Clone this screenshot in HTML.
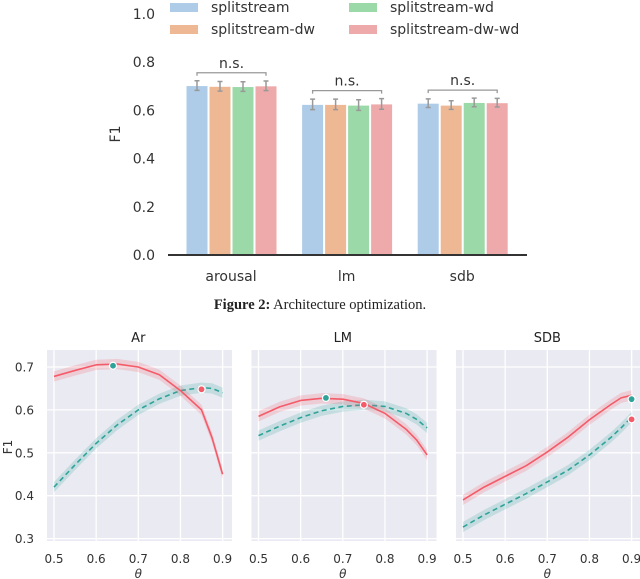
<!DOCTYPE html>
<html><head><meta charset="utf-8"><style>
body{margin:0;background:#fff;width:640px;height:579px;overflow:hidden}
svg{display:block;font-family:"DejaVu Sans","Liberation Sans",sans-serif}
</style></head><body>
<svg id="s" width="640" height="579" viewBox="0 0 640 579">
<g id="topg"></g>
<text x="320" y="309" text-anchor="middle" font-family="Liberation Serif,serif" font-size="14.5" fill="#222"><tspan font-weight="bold">Figure 2:</tspan> Architecture optimization.</text>
<g id="botg"></g>
</svg>
<script>
const NS="http://www.w3.org/2000/svg";
function mk(p,t,a,txt){const e=document.createElementNS(NS,t);for(const k in a)e.setAttribute(k,a[k]);if(txt!=null)e.textContent=txt;p.appendChild(e);return e;}

// ---- bar chart data ----
const barGroups=["arousal","lm","sdb"];
const barSeries=["splitstream","splitstream-dw","splitstream-wd","splitstream-dw-wd"];
const valSplit=[0.703,0.625,0.630];
const valDw=[0.700,0.625,0.622];
const valWd=[0.699,0.622,0.633];
const valDwWd=[0.702,0.627,0.632];
const errBar=[0.02,0.022,0.018];
const barTicks=[0,0.2,0.4,0.6,0.8,1.0];
const barColors=["#aecbe8","#eeb894","#9bd9a8","#eeaaaa"];

const topG=document.getElementById('topg');
const by=v=>255-v*241, gx0=174, gStep=115.6;
barTicks.forEach(t=>{
 const e=mk(topG,'text',{x:155,y:by(t)+5,'text-anchor':'end','font-size':14,fill:'#333'},t.toFixed(1));
 
 
});
const yl=mk(topG,'text',{x:120,y:134,'text-anchor':'middle','font-size':14,fill:'#333',transform:'rotate(-90 120 134)'},'F1');


const allVals=[valSplit,valDw,valWd,valDwWd];
barGroups.forEach((g,gi)=>{
 const gl=gx0+gi*gStep;
 allVals.forEach((vals,si)=>{
  const x=gl+12+si*23, v=vals[gi];
  const r=mk(topG,'rect',{x:x,y:by(v),width:22,height:by(0)-by(v),fill:barColors[si],stroke:'#fff','stroke-width':1});
  
  
  const cx=x+11,e=errBar[gi];
  const eb=mk(topG,'path',{d:`M${cx},${by(v+e)}V${by(v-e)}M${cx-2.5},${by(v+e)}H${cx+2.5}M${cx-2.5},${by(v-e)}H${cx+2.5}`,stroke:'#999','stroke-width':1.5,fill:'none'});
  
  
 });
 const maxv=Math.max(...allVals.map(a=>a[gi]+errBar[gi]));
 const byy=by(maxv)-8, x1=gl+23, x2=gl+12+3*23+11;
 const br=mk(topG,'path',{d:`M${x1},${byy+3}V${byy}H${x2}V${byy+3}`,stroke:'#999','stroke-width':1.3,fill:'none'});
 
 
 const ns=mk(topG,'text',{x:(x1+x2)/2,y:byy-5,'text-anchor':'middle','font-size':14,fill:'#333'},'n.s.');
 
 
 const xl=mk(topG,'text',{x:gl+57,y:281,'text-anchor':'middle','font-size':14,fill:'#333'},g);
 
 
});
const ax=mk(topG,'line',{x1:168,x2:527,y1:255,y2:255,stroke:'#333','stroke-width':2});


barSeries.forEach((s,i)=>{
 const lx=i<2?170:349, lyy=i%2?29:7;
 const p=mk(topG,'rect',{x:lx,y:lyy-4,width:28,height:9,fill:barColors[i]});
 
 
 const t=mk(topG,'text',{x:lx+41,y:lyy+5,'font-size':14,fill:'#333'},s);
 
 
});

// ---- line chart data ----
const thetas=[0.5,0.55,0.6,0.65,0.7,0.75,0.8,0.85,0.875,0.9];
const arRed=[0.678,0.692,0.705,0.707,0.700,0.682,0.645,0.600,0.535,0.450];
const arTeal=[0.420,0.472,0.522,0.565,0.600,0.626,0.645,0.652,0.650,0.640];
const lmRed=[0.585,0.607,0.622,0.627,0.625,0.615,0.592,0.555,0.530,0.495];
const lmTeal=[0.540,0.562,0.582,0.598,0.608,0.612,0.608,0.592,0.578,0.558];
const sdbRed=[0.390,0.420,0.445,0.470,0.502,0.537,0.577,0.612,0.628,0.634];
const sdbTeal=[0.327,0.355,0.380,0.405,0.432,0.460,0.495,0.535,0.558,0.583];
const panelNames=["Ar","LM","SDB"];
const markerTheta=[[0.64,0.85],[0.66,0.75],[0.9,0.9]];
const markerVal=[[0.703,0.648],[0.628,0.612],[0.625,0.578]];
const lineYTicks=[0.3,0.4,0.5,0.6,0.7];
const lineXTicks=[0.5,0.6,0.7,0.8,0.9];
const band=0.012;
const RED="#f45b69",TEAL="#2fa39a";

const botG=document.getElementById('botg');
const panelX0=[54,258.5,463];
const redSets=[arRed,lmRed,sdbRed], tealSets=[arTeal,lmTeal,sdbTeal];
const ly=v=>367+(0.7-v)*429;
panelNames.forEach((nm,pi)=>{
 const lx=t=>panelX0[pi]+(t-0.5)*421.5;
 const g=mk(botG,'g',{});
 
 
 const bg=mk(g,'rect',{x:lx(0.5)-7,y:350,width:185,height:191,fill:'#eaeaf2'});
 
 
 lineYTicks.forEach(t=>{
  const gl=mk(g,'line',{x1:lx(0.5)-7,x2:lx(0.5)+178,y1:ly(t),y2:ly(t),stroke:'#fff','stroke-width':1.3});
  
  
  if(pi==0){const tl=mk(g,'text',{x:34,y:ly(t)+4.5,'text-anchor':'end','font-size':12,fill:'#333'},t.toFixed(1));
   
   }
 });
 lineXTicks.forEach(t=>{
  const gl=mk(g,'line',{x1:lx(t),x2:lx(t),y1:350,y2:541,stroke:'#fff','stroke-width':1.3});
  
  
  const tl=mk(g,'text',{x:lx(t),y:563,'text-anchor':'middle','font-size':12,fill:'#333'},t.toFixed(1));
  
  
 });
 const tt=mk(g,'text',{x:lx(0.7),y:342,'text-anchor':'middle','font-size':13,fill:'#222'},nm);
 
 
 const xt=mk(g,'text',{x:lx(0.7),y:578,'text-anchor':'middle','font-size':12,'font-style':'italic',fill:'#333'},'θ');
 
 
 [[tealSets[pi],TEAL,'5,3.5','teal'],[redSets[pi],RED,null,'red']].forEach(([vals,col,dash,cn])=>{
  const up=thetas.map((t,i)=>`${lx(t)},${ly(vals[i]+band)}`);
  const dn=thetas.map((t,i)=>`${lx(t)},${ly(vals[i]-band)}`).reverse();
  const b=mk(g,'polygon',{points:up.concat(dn).join(' '),fill:col,'fill-opacity':0.2});
  
  
  const a={points:thetas.map((t,i)=>`${lx(t)},${ly(vals[i])}`).join(' '),fill:'none',stroke:col,'stroke-width':1.6,'stroke-linejoin':'round'};
  if(dash)a['stroke-dasharray']=dash;
  const l=mk(g,'polyline',a);
  
  
 });
 [TEAL,RED].forEach((col,mi)=>{
  const c=mk(g,'circle',{cx:lx(markerTheta[pi][mi]),cy:ly(markerVal[pi][mi]),r:3.5,fill:col,stroke:'#fff','stroke-width':1.2});
  
  
 });
});
const f1=mk(botG,'text',{x:12,y:447,'text-anchor':'middle','font-size':12,fill:'#333',transform:'rotate(-90 12 447)'},'F1');


</script>
</body></html>
